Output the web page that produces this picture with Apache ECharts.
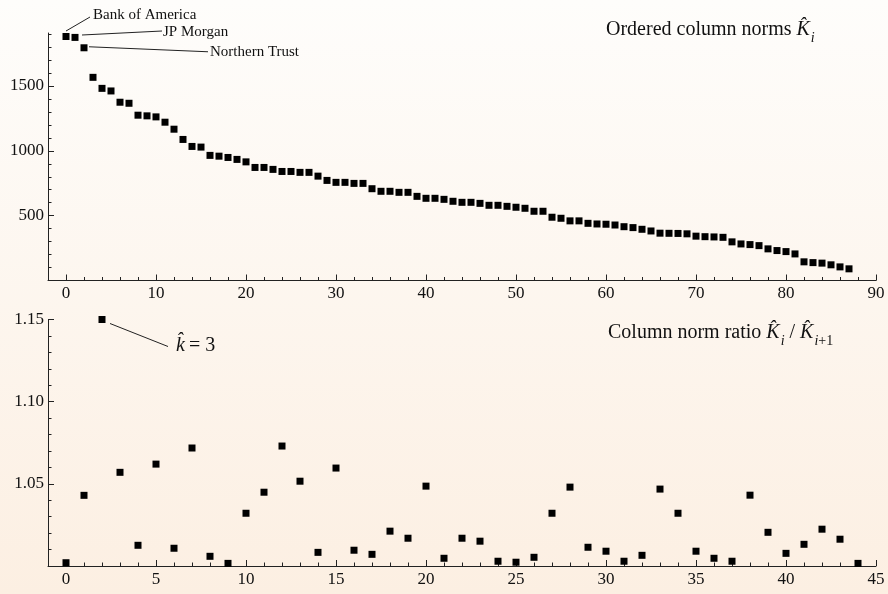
<!DOCTYPE html>
<html><head><meta charset="utf-8">
<script src="https://cdn.jsdelivr.net/npm/echarts@6/dist/echarts.min.js"></script>
<style>html,body{margin:0;padding:0;background:#fdf6ee}#c{width:888px;height:594px}</style>
</head><body><div id="c"></div>
<script>
// ---- data ----
const columnNorms = [
  1882,1875,1795,1567,1482,1462,1375,1367,1275,1270,
  1262,1221,1167,1088,1034,1029,965,959,949,934,
  915,872,872,857,841,841,834,834,805,772,
  757,757,749,749,708,688,688,680,680,649,
  634,634,626,611,603,603,595,580,580,572,
  565,557,534,534,488,480,460,460,441,436,
  434,428,415,408,395,382,365,364,363,360,
  342,338,336,333,298,282,277,269,244,231,
  223,205,144,138,134,121,105,90
];
const normRatios = [
  1.002,1.043,1.150,1.057,1.0126,1.062,1.0108,1.0718,1.0059,1.0016,
  1.0321,1.0449,1.073,1.0516,1.0083,1.0596,1.0096,1.0071,1.0212,1.0169,
  1.0486,1.0047,1.0169,1.0151,1.0029,1.0023,1.0053,1.0321,1.048,1.0114,
  1.009,1.0029,1.0065,1.0468,1.0321,1.009,1.0047,1.0029,1.0431,1.0205,
  1.0077,1.0132,1.0224,1.0163,1.0016
];
const topXTicks = [0,10,20,30,40,50,60,70,80,90];
const topYTicks = [500,1000,1500];
const bottomXTicks = [0,5,10,15,20,25,30,35,40,45];
const bottomYTicks = [1.05,1.10,1.15];
const bankLabels = ['Bank of America','JP Morgan','Northern Trust'];

// minor tick positions
const topXMinor = []; for (let v = 0; v <= 90; v += 2) if (v % 10) topXMinor.push(v);
const topYMinor = []; for (let v = 100; v <= 1900; v += 100) if (v % 500) topYMinor.push(v);
const botXMinor = []; for (let v = 0; v <= 45; v += 1) if (v % 5) botXMinor.push(v);
const botYMinor = []; for (let k = 101; k <= 115; k += 1) if (k % 5) botYMinor.push(k / 100);

const FONT = '"Liberation Serif","Times New Roman",serif';
const INK = '#111';
const lineStyle = {color: '#222', width: 1};

function xPair(grid, min, max, major, minor) {
  return [
    {gridIndex: grid, type: 'value', min, max, position: 'bottom',
     axisLine: {show: true, onZero: false, lineStyle},
     axisTick: {show: true, inside: true, length: 6, customValues: major, lineStyle},
     axisLabel: {show: true, customValues: major, margin: 5, color: INK, fontFamily: FONT, fontSize: 17},
     splitLine: {show: false}},
    {gridIndex: grid, type: 'value', min, max, position: 'bottom',
     axisLine: {show: false, onZero: false},
     axisTick: {show: true, inside: true, length: 3.5, customValues: minor, lineStyle},
     axisLabel: {show: false}, splitLine: {show: false}}
  ];
}
function yPair(grid, min, max, major, minor, fmt) {
  return [
    {gridIndex: grid, type: 'value', min, max, position: 'left',
     axisLine: {show: true, onZero: false, lineStyle},
     axisTick: {show: true, inside: true, length: 6, customValues: major, lineStyle},
     axisLabel: {show: true, customValues: major, margin: 4, color: INK, fontFamily: FONT, fontSize: 17, formatter: fmt},
     splitLine: {show: false}},
    {gridIndex: grid, type: 'value', min, max, position: 'left',
     axisLine: {show: false, onZero: false},
     axisTick: {show: true, inside: true, length: 3.5, customValues: minor, lineStyle},
     axisLabel: {show: false}, splitLine: {show: false}}
  ];
}

const chart = echarts.init(document.getElementById('c'), null, {renderer: 'canvas'});
chart.setOption({
  animation: false,
  backgroundColor: new echarts.graphic.LinearGradient(0, 0, 0, 1, [
    {offset: 0, color: '#fefdfb'}, {offset: 1, color: '#fcefe2'}
  ]),
  grid: [
    {left: 48, top: 33, width: 828, height: 247.5, containLabel: false, outerBoundsMode: 'none'},
    {left: 48, top: 319.5, width: 828, height: 246.5, containLabel: false, outerBoundsMode: 'none'}
  ],
  xAxis: [...xPair(0, -2, 90, topXTicks, topXMinor), ...xPair(1, -1, 45, bottomXTicks, botXMinor)],
  yAxis: [...yPair(0, 0, 1909, topYTicks, topYMinor, v => String(v)),
          ...yPair(1, 1.0, 1.15, bottomYTicks, botYMinor, v => v.toFixed(2))],
  series: [
    {type: 'scatter', xAxisIndex: 0, yAxisIndex: 0, symbol: 'rect', symbolSize: 7, clip: false,
     itemStyle: {color: '#000', opacity: 1}, data: columnNorms.map((v, i) => [i, v])},
    {type: 'scatter', xAxisIndex: 2, yAxisIndex: 2, symbol: 'rect', symbolSize: 7, clip: false,
     itemStyle: {color: '#000', opacity: 1}, data: normRatios.map((v, i) => [i, v])}
  ]
});

// ---- annotations (anchored to data via convertToPixel) ----
const mctx = document.createElement('canvas').getContext('2d');
function tw(t, f) { mctx.font = f; return mctx.measureText(t).width; }
function textRun(x, y, segs) {
  const out = [];
  let cx = x;
  segs.forEach(s => {
    out.push({type: 'text', silent: true, style: {text: s.t, x: cx, y: y + (s.dy || 0), font: s.f, fill: INK,
      align: 'left', verticalAlign: 'middle', textAlign: 'left', textVerticalAlign: 'middle'}});
    cx += tw(s.t, s.f) + (s.gap || 0);
  });
  return out;
}
function seg(x1, y1, x2, y2) {
  return {type: 'line', silent: true, shape: {x1, y1, x2, y2}, style: {stroke: '#222', lineWidth: 1}};
}
const g = [];
const R = '20px ' + FONT, I = 'italic 20px ' + FONT, S = 'italic 14px ' + FONT, SR = '14px ' + FONT;
const offs = [
  {l: [0, -5.5, 24, -19.5], t: [27, -21.5]},
  {l: [7, -2.4, 87, -6.4], t: [88, -5.7]},
  {l: [5, -1, 124, 4], t: [126, 4]}
];
bankLabels.forEach((name, i) => {
  const p = chart.convertToPixel({xAxisIndex: 0, yAxisIndex: 0}, [i, columnNorms[i]]);
  const o = offs[i];
  g.push(seg(p[0] + o.l[0], p[1] + o.l[1], p[0] + o.l[2], p[1] + o.l[3]));
  g.push({type: 'text', silent: true, style: {text: name, x: p[0] + o.t[0], y: p[1] + o.t[1],
    font: '15px ' + FONT, fill: INK, align: 'left', verticalAlign: 'middle', textAlign: 'left', textVerticalAlign: 'middle'}});
});
// k-hat annotation at the largest ratio
const pk = chart.convertToPixel({xAxisIndex: 2, yAxisIndex: 2}, [2, normRatios[2]]);
g.push(seg(pk[0] + 8, pk[1] + 4, pk[0] + 66, pk[1] + 27));
g.push(...textRun(pk[0] + 74, pk[1] + 26, [
  {t: 'k\u0302', f: I, gap: 4}, {t: '= 3', f: R}
]));
// titles
g.push(...textRun(606, 30, [
  {t: 'Ordered column norms ', f: R}, {t: 'K\u0302', f: I, gap: 1}, {t: 'i', f: S, dy: 8}
]));
g.push(...textRun(608, 333, [
  {t: 'Column norm ratio ', f: R}, {t: 'K\u0302', f: I, gap: 1}, {t: 'i', f: S, dy: 8},
  {t: ' / ', f: R}, {t: 'K\u0302', f: I, gap: 1}, {t: 'i', f: S, dy: 8}, {t: '+1', f: SR, dy: 8}
]));
chart.setOption({graphic: g});
</script>
</body></html>
